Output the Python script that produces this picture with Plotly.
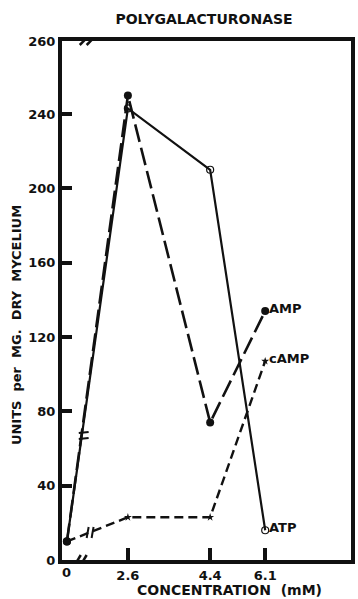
import plotly.graph_objects as go

# ---- data ----
conc_labels = ["0", "2.6", "4.4", "6.1"]          # concentration (mM)
x_pos = [0, 1.03, 2.42, 3.35]                    # broken-axis plotting positions
amp = [10, 250, 74, 134]
atp = [10, 243, 210, 16]
camp = [10, 23, 23, 107]
y_ticks = [0, 40, 80, 120, 160, 200, 240]
y_top = 279.3                                    # top of broken y-axis, labelled 260
y_top_label = "260"

FONT = "DejaVu Sans"
BLACK = "#111111"

fig = go.Figure()

fig.add_trace(go.Scatter(
    x=x_pos, y=atp, mode="lines+markers", name="ATP",
    line=dict(color=BLACK, width=2.2),
    marker=dict(symbol="circle-open", size=7, color=BLACK, line=dict(width=1.2)),
))
fig.add_trace(go.Scatter(
    x=x_pos, y=amp, mode="lines+markers", name="AMP",
    line=dict(color=BLACK, width=2.6, dash="18px,6px"),
    marker=dict(symbol="circle", size=8, color=BLACK),
))
fig.add_trace(go.Scatter(
    x=x_pos, y=camp, mode="lines+markers", name="cAMP",
    line=dict(color=BLACK, width=2.4, dash="9px,5px"),
    marker=dict(symbol="star", size=6, color=BLACK),
))

# series labels at the last point
for name, vals in [("AMP", amp), ("cAMP", camp), ("ATP", atp)]:
    fig.add_annotation(x=x_pos[-1], y=vals[-1], text=f"<b>{name}</b>", showarrow=False,
                       xanchor="left", yanchor="middle", xshift=2, yshift=3,
                       font=dict(family=FONT, size=13, color=BLACK))

# x tick label "0" (no tick mark at the origin)
fig.add_annotation(x=x_pos[0], y=0, text="<b>0</b>", showarrow=False, yanchor="top",
                   yshift=-3, font=dict(family=FONT, size=13, color=BLACK))

# y-axis title placed like the reference
fig.add_annotation(xref="paper", yref="paper", x=-0.155, y=0.453, textangle=-90,
                   text="<b>UNITS  per  MG.  DRY  MYCELIUM</b>", showarrow=False,
                   xanchor="center", yanchor="middle",
                   font=dict(family=FONT, size=13, color=BLACK))

# x-axis title placed like the reference
fig.add_annotation(xref="paper", yref="paper", x=0.58, y=-0.058,
                   text="<b>CONCENTRATION  (mM)</b>", showarrow=False,
                   xanchor="center", yanchor="middle",
                   font=dict(family=FONT, size=14, color=BLACK))

PX_X = 1 / 60.0      # axis units per pixel (x)
PX_Y = 1 / 1.858     # axis units per pixel (y)

def seg(x0, y0, x1, y1, w=2.5, color=BLACK):
    fig.add_shape(type="line", xref="x", yref="y", x0=x0, y0=y0, x1=x1, y1=y1,
                  line=dict(color=color, width=w), layer="above")

# break on top axis
fig.add_shape(type="line", xref="x", yref="y", x0=15 * PX_X, x1=27 * PX_X, y0=y_top, y1=y_top,
              line=dict(color="white", width=7), layer="above")
for dx in (13, 20):
    seg(dx * PX_X, y_top - 4 * PX_Y, (dx + 8) * PX_X, y_top + 4 * PX_Y)
# break on bottom axis
fig.add_shape(type="line", xref="x", yref="y", x0=9 * PX_X, x1=17 * PX_X, y0=0, y1=0,
              line=dict(color="white", width=7), layer="above")
for dx in (8, 14):
    seg(dx * PX_X, -5 * PX_Y, (dx + 6) * PX_X, 5 * PX_Y)
# break marks on the rising lines
for dy in (0, 6):
    seg(12 * PX_X, (127 - dy) * PX_Y, 22 * PX_X, (128 - dy) * PX_Y, w=2)
# break marks on the cAMP line
for dx in (20, 25):
    seg(dx * PX_X, 22 * PX_Y, (dx + 2) * PX_X, 33 * PX_Y, w=2)

fig.update_layout(
    width=358, height=599,
    margin=dict(l=62, r=3, t=41, b=39),
    paper_bgcolor="white", plot_bgcolor="white",
    showlegend=False,
    title=dict(text="<b>POLYGALACTURONASE</b>", x=0.57, xanchor="center", y=0.968, yanchor="middle",
               font=dict(family=FONT, size=14, color=BLACK)),
    font=dict(family=FONT, color=BLACK),
)
fig.update_xaxes(
    range=[-5 * PX_X, 288 * PX_X], showgrid=False, zeroline=False,
    showline=True, linewidth=4, linecolor=BLACK, mirror=True,
    tickvals=x_pos[1:], ticktext=[f"<b>{t}</b>" for t in conc_labels[1:]],
    ticks="inside", ticklen=12, tickwidth=3.5, tickcolor=BLACK,
    tickfont=dict(family=FONT, size=13, color=BLACK),
)
fig.update_yaxes(
    range=[0, y_top], showgrid=False, zeroline=False,
    showline=True, linewidth=4, linecolor=BLACK, mirror=True,
    tickvals=y_ticks + [y_top], ticktext=[f"<b>{v}</b>" for v in y_ticks] + [f"<b>{y_top_label}</b>"],
    ticks="inside", ticklen=10, tickwidth=3.5, tickcolor=BLACK,
    tickfont=dict(family=FONT, size=13, color=BLACK),
)

fig.write_html("out.html")
